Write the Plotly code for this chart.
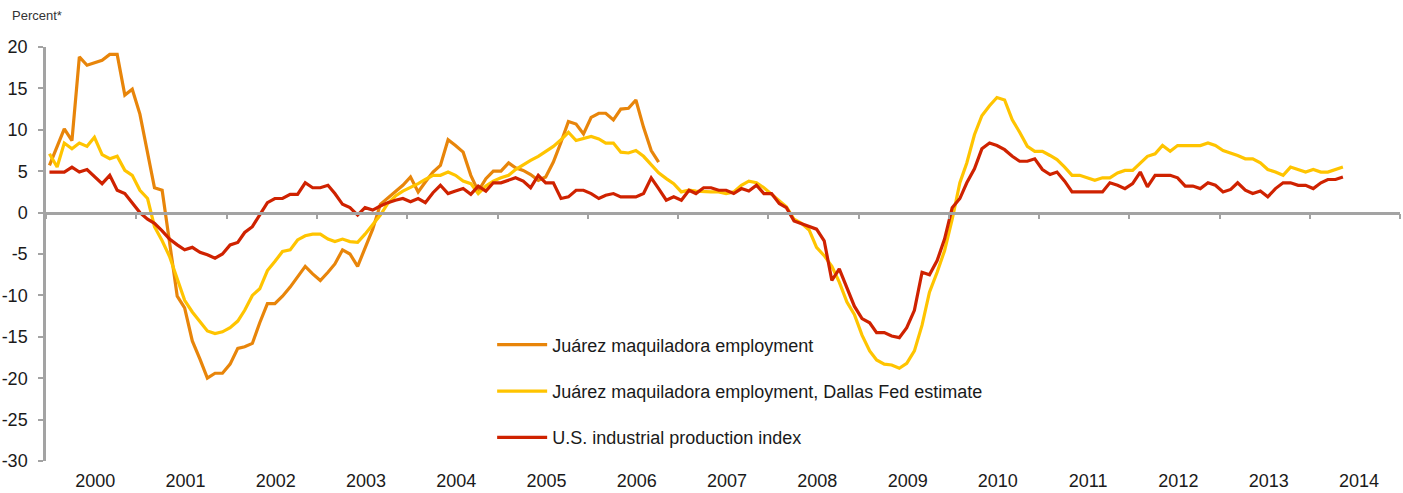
import pandas as pd
import plotly.graph_objects as go

# Monthly data, Jan 2000 onward (percent, year-over-year)
start_month = "2000-01-01"

juarez_employment = [
    5.7, 7.9, 10.1, 8.7, 18.8, 17.8, 18.1, 18.4, 19.1, 19.1, 14.2, 14.9,
    11.9, 7.0, 3.0, 2.7, -3.7, -10.1, -11.5, -15.5, -17.7, -20.0, -19.4, -19.4,
    -18.3, -16.4, -16.2, -15.8, -13.3, -11.0, -11.0, -10.1, -9.0, -7.8, -6.5, -7.4,
    -8.2, -7.2, -6.2, -4.5, -5.0, -6.5, -4.3, -2.0, 1.0, 1.8, 2.5, 3.3,
    4.3, 2.5, 3.7, 4.9, 5.7, 8.8, 8.1, 7.3, 4.5, 2.6, 4.1, 5.0,
    5.0, 6.0, 5.4, 5.1, 4.6, 3.9, 4.3, 6.1, 8.5, 11.0, 10.7, 9.5,
    11.5, 12.0, 12.0, 11.2, 12.5, 12.6, 13.6, 10.3, 7.5, 6.1,
]

dallas_fed_estimate = [
    7.1, 5.5, 8.4, 7.7, 8.4, 8.0, 9.1, 7.0, 6.5, 6.8, 5.1, 4.5,
    2.7, 1.7, -1.7, -3.4, -5.3, -8.0, -10.6, -12.0, -13.2, -14.3, -14.6, -14.4,
    -13.9, -13.1, -11.8, -10.0, -9.2, -7.0, -5.9, -4.7, -4.5, -3.3, -2.8, -2.6,
    -2.6, -3.2, -3.5, -3.2, -3.5, -3.6, -2.6, -1.5, -0.3, 1.1, 2.0, 2.6,
    3.0, 3.5, 4.0, 4.5, 4.5, 4.9, 4.5, 3.8, 3.5, 2.3, 3.2, 3.8,
    4.2, 4.5, 5.2, 5.8, 6.3, 6.8, 7.4, 8.0, 8.8, 9.7, 8.7, 8.9,
    9.2, 8.9, 8.4, 8.4, 7.3, 7.2, 7.5, 6.8, 5.8, 4.8, 4.1, 3.5,
    2.5, 2.7, 2.6, 2.5, 2.5, 2.5, 2.3, 2.5, 3.3, 3.8, 3.6, 3.0,
    2.2, 1.5, 0.7, -0.8, -1.3, -2.1, -4.2, -5.2, -6.5, -8.4, -10.8, -12.3,
    -14.8, -16.7, -17.8, -18.3, -18.4, -18.8, -18.2, -16.7, -13.6, -9.6, -7.2, -4.6,
    -0.8, 3.6, 6.0, 9.4, 11.7, 12.9, 13.9, 13.6, 11.2, 9.7, 8.0, 7.4,
    7.4, 6.9, 6.4, 5.5, 4.5, 4.5, 4.2, 3.9, 4.2, 4.2, 4.8, 5.1,
    5.1, 6.0, 6.8, 7.1, 8.1, 7.4, 8.1, 8.1, 8.1, 8.1, 8.4, 8.1,
    7.5, 7.2, 6.9, 6.5, 6.5, 6.0, 5.2, 4.9, 4.5, 5.5, 5.2, 4.9,
    5.2, 4.9, 4.9, 5.2, 5.5,
]

us_industrial_production = [
    4.9, 4.9, 4.9, 5.5, 4.9, 5.2, 4.3, 3.5, 4.5, 2.7, 2.3, 1.1,
    0.0, -0.8, -1.3, -2.2, -3.2, -3.9, -4.5, -4.2, -4.8, -5.1, -5.5, -5.0,
    -3.9, -3.6, -2.4, -1.7, -0.2, 1.2, 1.7, 1.7, 2.2, 2.2, 3.6, 3.0,
    3.0, 3.3, 2.3, 1.0, 0.6, -0.3, 0.6, 0.3, 0.8, 1.2, 1.5, 1.7,
    1.3, 1.7, 1.2, 2.4, 3.3, 2.3, 2.6, 2.9, 2.2, 3.2, 2.6, 3.6,
    3.6, 3.9, 4.2, 3.8, 3.0, 4.5, 3.6, 3.6, 1.7, 1.9, 2.7, 2.7,
    2.3, 1.7, 2.1, 2.3, 1.9, 1.9, 1.9, 2.3, 4.2, 2.9, 1.5, 1.9,
    1.5, 2.7, 2.3, 3.0, 3.0, 2.7, 2.7, 2.3, 2.9, 2.6, 3.3, 2.3,
    2.3, 1.1, 0.6, -1.0, -1.3, -1.7, -2.0, -3.4, -8.2, -6.8, -9.2, -11.3,
    -12.8, -13.3, -14.5, -14.5, -14.9, -15.1, -13.9, -11.8, -7.2, -7.5, -5.8, -3.2,
    0.6, 1.7, 3.6, 5.3, 7.7, 8.4, 8.1, 7.6, 6.8, 6.2, 6.2, 6.5,
    5.2, 4.6, 4.9, 3.8, 2.5, 2.5, 2.5, 2.5, 2.5, 3.6, 3.3, 2.9,
    3.5, 4.9, 3.1, 4.5, 4.5, 4.5, 4.2, 3.2, 3.2, 2.9, 3.6, 3.3,
    2.5, 2.8, 3.6, 2.7, 2.3, 2.6, 1.9, 2.9, 3.6, 3.6, 3.3, 3.3,
    2.9, 3.6, 4.0, 4.0, 4.3,
]

y_tick_values = [20, 15, 10, 5, 0, -5, -10, -15, -20, -25, -30]
y_tick_labels = ["20", "15", "10", "5", "0", "-5", "-10", "-15", "-20", "-25", "-30"]

series_names = [
    "Juárez maquiladora employment",
    "Juárez maquiladora employment, Dallas Fed estimate",
    "U.S. industrial production index",
]
series_colors = ["#E8850A", "#FFC400", "#CF2200"]

dates = pd.date_range(start_month, periods=len(us_industrial_production), freq="MS") + pd.Timedelta(days=14)
x_range = ["2000-01-01", "2015-01-01"]

FONT = "Liberation Sans, Arial, Helvetica, sans-serif"
GREY = "#A3A3A3"

fig = go.Figure()
all_series = [juarez_employment, dallas_fed_estimate, us_industrial_production]
for i, (name, vals, col) in enumerate(zip(series_names, all_series, series_colors)):
    fig.add_trace(go.Scatter(
        x=dates[:len(vals)], y=vals, mode="lines", name=name,
        line=dict(color=col, width=3.2), legendgroup=f"g{i}",
    ))

# helper trace so the zero-line axis (x2) is drawn
fig.add_trace(go.Scatter(x=[dates[0]], y=[0], xaxis="x2", mode="markers",
                         marker=dict(opacity=0), showlegend=False, hoverinfo="skip"))

ymin, ymax = -30, 20
fig.update_layout(
    width=1403, height=493,
    margin=dict(l=46, r=3, t=47, b=32, autoexpand=False),
    paper_bgcolor="white", plot_bgcolor="white",
    font=dict(family=FONT, size=18, color="#1a1a1a"),
    showlegend=True,
    legend=dict(x=0.3295, y=0.325, xanchor="left", yanchor="top",
                bgcolor="rgba(0,0,0,0)", itemwidth=50, tracegroupgap=20,
                font=dict(size=18, color="#1a1a1a")),
    xaxis=dict(type="date", range=x_range, showgrid=False, zeroline=False,
               showline=False, ticks="", dtick="M12", tick0="2000-01-01",
               ticklabelmode="period", tickformat="%Y", automargin=False,
               ticklabelshift=4, ticklabelstandoff=7,
               tickfont=dict(size=18, color="#1a1a1a")),
    xaxis2=dict(type="date", range=x_range, overlaying="x", anchor="free",
                position=(0 - ymin) / (ymax - ymin), side="bottom",
                showgrid=False, zeroline=False, showline=True, linecolor=GREY,
                linewidth=2.5, ticks="outside", ticklen=5, tickwidth=2,
                tickcolor=GREY, dtick="M12", tick0="2000-01-01",
                showticklabels=False, automargin=False),
    yaxis=dict(range=[ymin, ymax], tickmode="array", tickvals=y_tick_values,
               ticktext=y_tick_labels, showgrid=False, zeroline=False,
               showline=True, linecolor=GREY, linewidth=2.5, ticks="outside",
               ticklen=5, tickwidth=2, tickcolor=GREY, ticklabelstandoff=7,
               automargin=False, tickfont=dict(size=18, color="#1a1a1a")),
    annotations=[dict(text="Percent*", xref="paper", yref="paper",
                      x=-0.0265, y=1.077, xanchor="left", yanchor="middle",
                      showarrow=False, font=dict(size=13, color="#333333"))],
)

fig.write_html("out.html", config={"displayModeBar": False},
               post_script="document.body.style.margin='0';document.body.style.overflow='hidden';")
